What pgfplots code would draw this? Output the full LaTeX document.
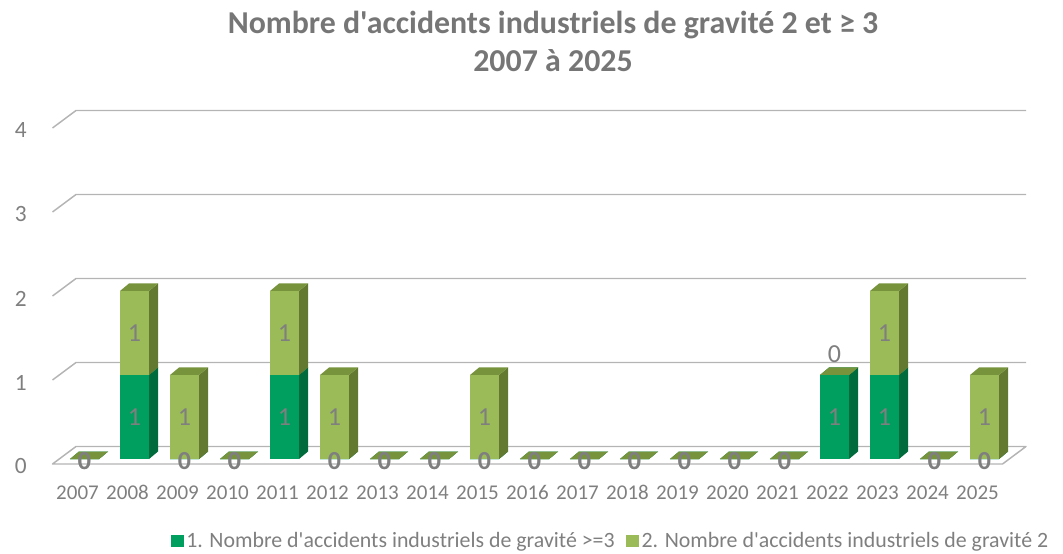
\documentclass[border=0pt]{standalone}
\usepackage{fontspec}
\setmainfont{Carlito}[Ligatures=TeXOff]
\usepackage{pgfplots}
\pgfplotsset{compat=1.18}
\usepackage{pgfplotstable}

\definecolor{dfront}{HTML}{009E5F}
\definecolor{dside}{HTML}{006B3C}
\definecolor{dtop}{HTML}{00844E}
\definecolor{lfront}{HTML}{9BBB59}
\definecolor{lside}{HTML}{62792F}
\definecolor{ltop}{HTML}{77933C}
\definecolor{txt}{HTML}{7F7F7F}
\definecolor{ttl}{HTML}{767676}
\definecolor{gridc}{HTML}{B4B4B4}

\pgfplotstableread{
i a b
0 0 0
1 1 1
2 0 1
3 0 0
4 1 1
5 0 1
6 0 0
7 0 0
8 0 1
9 0 0
10 0 0
11 0 0
12 0 0
13 0 0
14 0 0
15 1 0
16 1 1
17 0 0
18 0 1
}\datatable

\newdimen\prh
\newcommand\drawprism[3]{%
  \pgfmathsetlength\prh{\segh*63pt}%
  \pgfsetfillcolor{#1}%
  \pgfpathrectanglecorners{\pgfpoint{-10.875pt}{-\prh}}{\pgfpoint{10.875pt}{0pt}}%
  \pgfusepath{fill}%
  \pgfsetfillcolor{#2}%
  \pgfpathmoveto{\pgfpoint{10.875pt}{-\prh}}%
  \pgfpathlineto{\pgfpoint{17.625pt}{-\prh+5.625pt}}%
  \pgfpathlineto{\pgfpoint{17.625pt}{5.625pt}}%
  \pgfpathlineto{\pgfpoint{10.875pt}{0pt}}%
  \pgfpathclose
  \pgfusepath{fill}%
  \pgfsetfillcolor{#3}%
  \pgfpathmoveto{\pgfpoint{-10.875pt}{0pt}}%
  \pgfpathlineto{\pgfpoint{10.875pt}{0pt}}%
  \pgfpathlineto{\pgfpoint{17.625pt}{5.625pt}}%
  \pgfpathlineto{\pgfpoint{-4.125pt}{5.625pt}}%
  \pgfpathclose
  \pgfusepath{fill}%
}
\pgfdeclareplotmark{prismA}{\drawprism{dfront}{dside}{dtop}}
\pgfdeclareplotmark{prismB}{\drawprism{lfront}{lside}{ltop}}

\begin{document}
\begin{tikzpicture}
\useasboundingbox (0,0) rectangle (797.25pt,414.75pt);
\node[font=\fontsize{23.9}{28.5}\selectfont\bfseries, text=ttl, align=center] at (414.75pt,384pt)
  {Nombre d'accidents industriels de gravité 2 et ≥ 3\\2007 à 2025};
\begin{axis}[
  at={(25.875pt,70.5pt)}, anchor=south west,
  x=37.5pt, y=63pt,
  xmin=-1, xmax=19, ymin=0, ymax=4.5,
  clip=false,
  axis line style={draw=none},
  tick style={draw=none},
  /pgf/number format/assume math mode=true,
  xtick={0,...,18},
  xticklabels={2007,2008,2009,2010,2011,2012,2013,2014,2015,2016,2017,2018,2019,2020,2021,2022,2023,2024,2025},
  ytick={0,1,2,3,4},
  xticklabel style={anchor=base, inner sep=0pt, yshift=-30.45pt, xshift=-5.25pt,
    font=\fontsize{15.75}{18}\selectfont, text=txt},
  yticklabel style={anchor=east, inner sep=0pt, xshift=-5.625pt, yshift=-5.625pt,
    font=\fontsize{17.5}{20}\selectfont, text=txt},
  legend style={at={(0.5765,-0.217)}, anchor=center, draw=none, fill=none,
    legend columns=2, font=\fontsize{16.4}{20}\selectfont, text=txt,
    /tikz/every even column/.append style={column sep=6.75pt}},
]
% grid and floor
\pgfplotsinvokeforeach{1,2,3,4}{%
  \draw[gridc, line width=1.1pt]
    ([shift={(-5.25pt,-3.75pt)}]axis cs:-0.5,#1) --
    ([shift={(12.375pt,9.375pt)}]axis cs:-0.5,#1) --
    ([shift={(12.375pt,9.375pt)}]axis cs:18.5,#1);
}
\draw[gridc, line width=1.1pt, line join=round]
    ([shift={(-5.25pt,-3.75pt)}]axis cs:-0.5,0) --
    ([shift={(12.375pt,9.375pt)}]axis cs:-0.5,0) --
    ([shift={(12.375pt,9.375pt)}]axis cs:18.5,0) --
    ([shift={(-5.25pt,-3.75pt)}]axis cs:18.5,0) -- cycle;

\addplot[scatter, only marks, mark=prismA,
  visualization depends on={\thisrow{a} \as \segh},
  legend image code/.code={\fill[dfront] (0pt,-4.1pt) rectangle (9pt,4.1pt);}]
  table[x=i, y=a] {\datatable};
\addlegendentry{1. Nombre d'accidents industriels de gravité >=3}

\addplot[scatter, only marks, mark=prismB,
  visualization depends on={\thisrow{b} \as \segh},
  legend image code/.code={\fill[lfront] (0pt,-4.1pt) rectangle (9pt,4.1pt);}]
  table[x=i, y expr=\thisrow{a}+\thisrow{b}] {\datatable};
\addlegendentry{2. Nombre d'accidents industriels de gravité 2}

% data labels
\addplot[forget plot, draw=none, mark=none,
  point meta={\thisrow{a}},
  visualization depends on={\thisrow{a} \as \segh},
  nodes near coords={\ifdim\segh pt=0pt\bfseries\fi\pgfmathprintnumber{\pgfplotspointmeta}},
  every node near coord/.append style={anchor=center, inner sep=0pt,
    font=\fontsize{19.5}{22}\selectfont, text=txt,
    yshift={(\segh>0 ? -\segh*31.5 : -1.5)*1pt}}]
  table[x=i, y=a] {\datatable};
\addplot[forget plot, draw=none, mark=none,
  point meta={\thisrow{b}},
  visualization depends on={\thisrow{b} \as \segh},
  visualization depends on={\thisrow{a} \as \vala},
  nodes near coords={\pgfmathprintnumber{\pgfplotspointmeta}},
  every node near coord/.append style={anchor=center, inner sep=0pt,
    font=\fontsize{19.5}{22}\selectfont, text=txt,
    yshift={(\segh>0 ? -\segh*31.5 : (\vala>0 ? 15.75 : -1.5))*1pt}}]
  table[x=i, y expr=\thisrow{a}+\thisrow{b}] {\datatable};
\end{axis}
\end{tikzpicture}
\end{document}
